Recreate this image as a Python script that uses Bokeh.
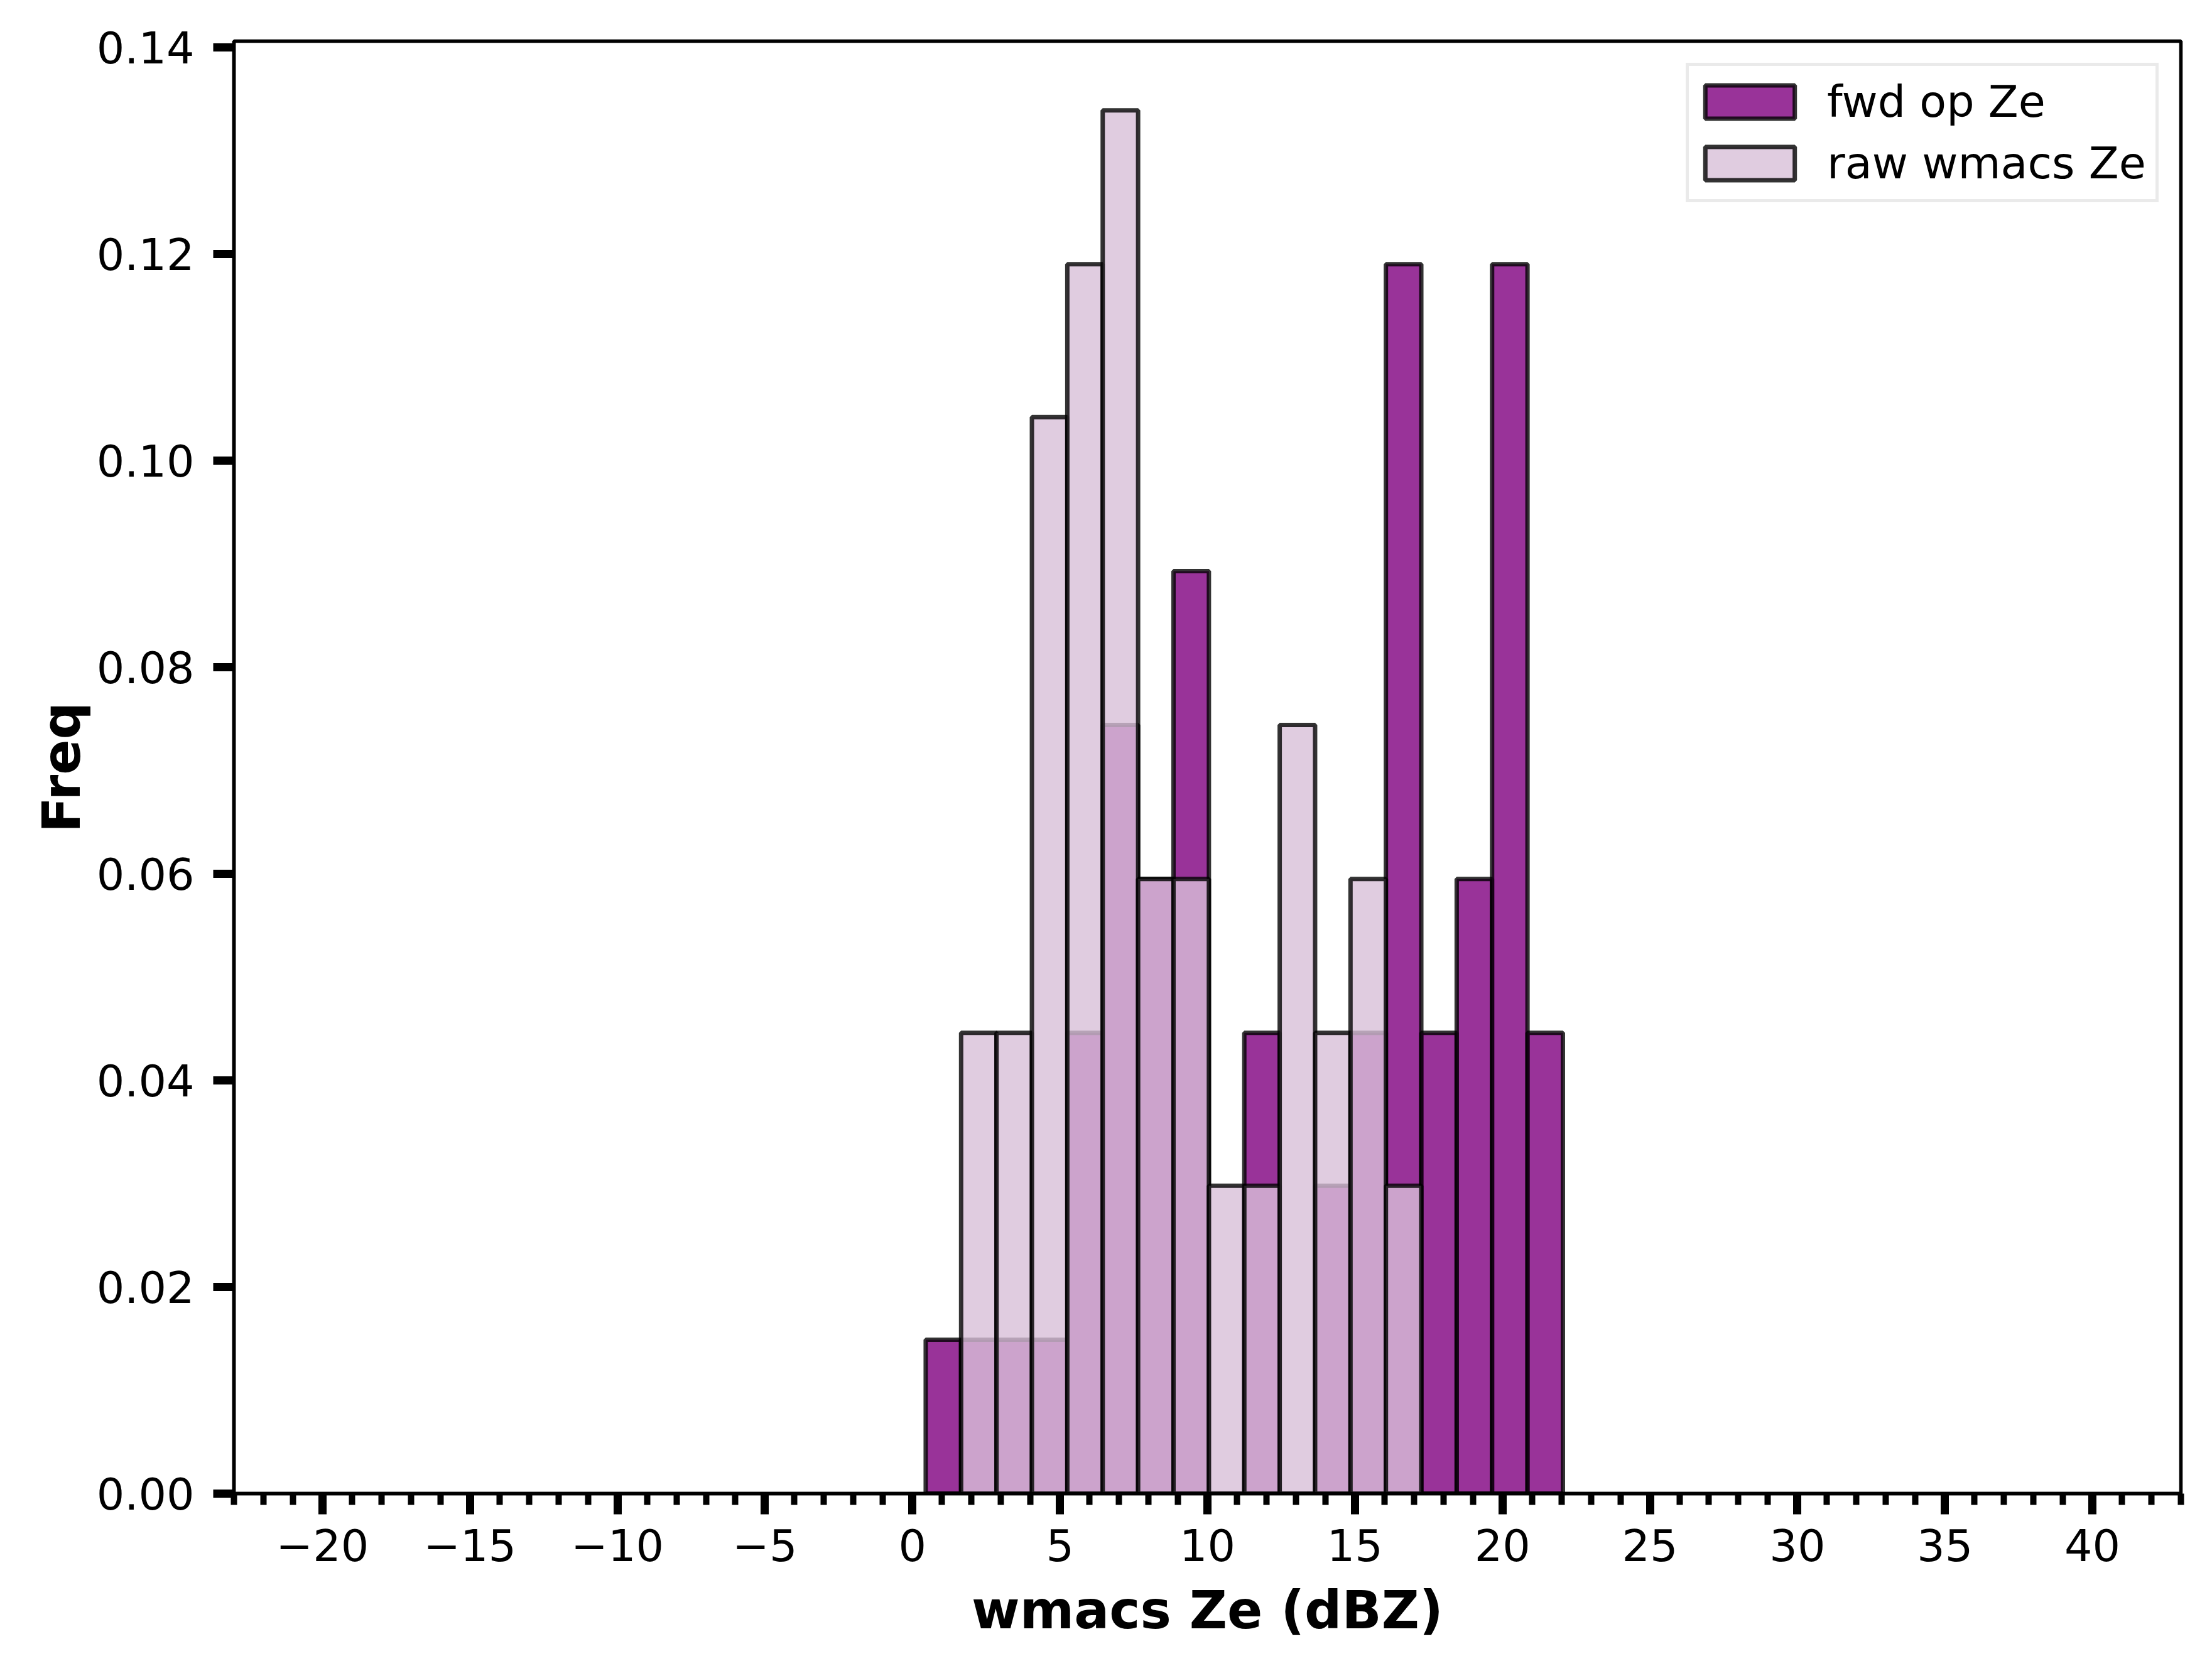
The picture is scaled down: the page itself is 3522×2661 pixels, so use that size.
from bokeh.plotting import figure
from bokeh.models import (Range1d, SingleIntervalTicker, NumeralTickFormatter,
                          CustomJSTickFormatter, Legend, LegendItem, ColumnDataSource)
from bokeh.embed import file_html
from bokeh.resources import INLINE

# bin edges (dBZ) shared by both histograms
bin_edges = [0.45, 1.65, 2.85, 4.05, 5.25, 6.45, 7.65, 8.85, 10.05, 11.25,
             12.45, 13.65, 14.85, 16.05, 17.25, 18.45, 19.65, 20.85, 22.05]
# frequency (density) per bin
fwd_op_ze = [0.0149, 0.0149, 0.0149, 0.0149, 0.0446, 0.0744, 0.0595, 0.0893, 0.0,
             0.0446, 0.0, 0.0298, 0.0446, 0.1190, 0.0446, 0.0595, 0.1190, 0.0446]
raw_wmacs_ze = [0.0, 0.0446, 0.0446, 0.1042, 0.1190, 0.1339, 0.0595, 0.0595, 0.0298,
                0.0298, 0.0744, 0.0446, 0.0595, 0.0298, 0.0, 0.0, 0.0, 0.0]
series_labels = ["fwd op Ze", "raw wmacs Ze"]
x_label = "wmacs Ze (dBZ)"
y_label = "Freq"

FONT = "DejaVu Sans"

p = figure(width=3506, height=2645,
           x_range=Range1d(-23, 43), y_range=Range1d(0, 0.1406),
           output_backend="svg", toolbar_location=None,
           min_border_left=372, min_border_right=34,
           min_border_top=65, min_border_bottom=267)
p.background_fill_color = "white"
p.border_fill_color = "white"
p.grid.visible = False
p.outline_line_color = "black"
p.outline_line_width = 5.5

lefts = bin_edges[:-1]
rights = bin_edges[1:]
src_fwd = ColumnDataSource(dict(left=lefts, right=rights, top=fwd_op_ze, bottom=[0.0] * len(fwd_op_ze)))
src_raw = ColumnDataSource(dict(left=lefts, right=rights, top=raw_wmacs_ze, bottom=[0.0] * len(raw_wmacs_ze)))

r_fwd = p.quad(left="left", right="right", top="top", bottom="bottom", source=src_fwd,
               fill_color="purple", fill_alpha=0.8,
               line_color="black", line_alpha=0.8, line_width=7)
r_raw = p.quad(left="left", right="right", top="top", bottom="bottom", source=src_raw,
               fill_color="thistle", fill_alpha=0.8,
               line_color="black", line_alpha=0.8, line_width=7)

# x axis
xa = p.xaxis[0]
xa.ticker = SingleIntervalTicker(interval=5, num_minor_ticks=5)
xa.formatter = CustomJSTickFormatter(code="return tick < 0 ? '\u2212' + String(-tick) : String(tick);")
xa.axis_label = x_label
# y axis
ya = p.yaxis[0]
ya.ticker = SingleIntervalTicker(interval=0.02, num_minor_ticks=0)
ya.formatter = NumeralTickFormatter(format="0.00")
ya.axis_label = y_label

for ax in (xa, ya):
    ax.axis_line_color = "black"
    ax.axis_line_width = 5.5
    ax.major_tick_line_color = "black"
    ax.major_tick_line_width = 13
    ax.major_tick_out = 33
    ax.major_tick_in = 0
    ax.minor_tick_line_color = "black"
    ax.minor_tick_line_width = 10
    ax.minor_tick_out = 18
    ax.minor_tick_in = 0
    ax.major_label_text_font = FONT
    ax.major_label_text_font_size = "70px"
    ax.major_label_text_color = "black"
    ax.axis_label_text_font = FONT
    ax.axis_label_text_font_size = "83px"
    ax.axis_label_text_font_style = "bold"
    ax.axis_label_text_color = "black"

xa.major_label_standoff = 23
xa.axis_label_standoff = 27
ya.major_label_standoff = 30
ya.axis_label_standoff = 4
ya.minor_tick_line_color = None

legend = Legend(items=[LegendItem(label=series_labels[0], renderers=[r_fwd]),
                       LegendItem(label=series_labels[1], renderers=[r_raw])],
                location="top_right")
legend.margin = 35
legend.padding = 8
legend.spacing = 0
legend.glyph_width = 178
legend.glyph_height = 66
legend.label_height = 98
legend.label_width = 515
legend.label_standoff = 34
legend.label_text_font = FONT
legend.label_text_font_size = "70px"
legend.label_text_color = "black"
legend.border_line_color = "#d6d6d6"
legend.border_line_width = 5
legend.background_fill_color = "white"
legend.background_fill_alpha = 0.8
p.add_layout(legend)

open("out.html", "w").write(file_html(p, INLINE))
